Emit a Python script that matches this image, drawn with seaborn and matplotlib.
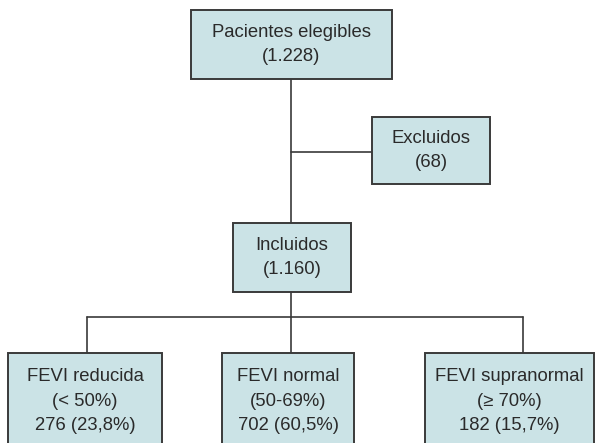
import matplotlib
matplotlib.use("Agg")
import matplotlib.pyplot as plt
import seaborn as sns
from matplotlib.patches import Rectangle

# Flowchart content
node_titles = ["Pacientes elegibles", "Excluidos", "Incluidos",
               "FEVI reducida", "FEVI normal", "FEVI supranormal"]
node_ranges = ["", "", "", "(< 50%)", "(50-69%)", "(≥ 70%)"]
node_counts = ["1.228", "68", "1.160", "276", "702", "182"]
node_pcts = ["", "", "", "23,8%", "60,5%", "15,7%"]

# Layout in pixel units (x0, y0, x1, y1); bottom row runs off the page
boxes = [
    (191, 10, 392, 79),
    (372, 117, 490, 184),
    (233, 223, 351, 292),
    (8, 353, 162, 449),
    (222, 353, 354, 449),
    (425, 353, 594, 449),
]

sns.set_theme(style="white")
plt.rcParams["font.family"] = ["Liberation Sans", "DejaVu Sans"]

fill = "#cbe3e6"
edge = "#3a3a3a"
txt = "#2a2a2a"

fig = plt.figure(figsize=(6.09, 4.43), dpi=100)
ax = fig.add_axes([0, 0, 1, 1])
ax.set_xlim(0, 609)
ax.set_ylim(443, 0)
ax.axis("off")

# connectors
cx = 291
line_kw = dict(color=edge, lw=1.2, zorder=1)
ax.plot([cx, cx], [79, 223], **line_kw)
ax.plot([cx, 372], [152, 152], **line_kw)
ax.plot([cx, cx], [292, 317], **line_kw)
ax.plot([87, 523], [317, 317], **line_kw)
for bx in [87, cx, 523]:
    ax.plot([bx, bx], [317, 353], **line_kw)

for i, (x0, y0, x1, y1) in enumerate(boxes):
    ax.add_patch(Rectangle((x0, y0), x1 - x0, y1 - y0, facecolor=fill,
                           edgecolor=edge, lw=1.4, zorder=2, clip_on=True))
    if node_pcts[i]:
        lines = [node_titles[i], node_ranges[i],
                 f"{node_counts[i]} ({node_pcts[i]})"]
    else:
        lines = [node_titles[i], f"({node_counts[i]})"]
    xm = (x0 + x1) / 2
    ym = (y0 + y1) / 2
    n = len(lines)
    for k, s in enumerate(lines):
        ax.text(xm, ym + (k - (n - 1) / 2) * 24.5, s, ha="center",
                va="center", fontsize=13.3, color=txt, zorder=3)

fig.savefig("out.png", dpi=100)
